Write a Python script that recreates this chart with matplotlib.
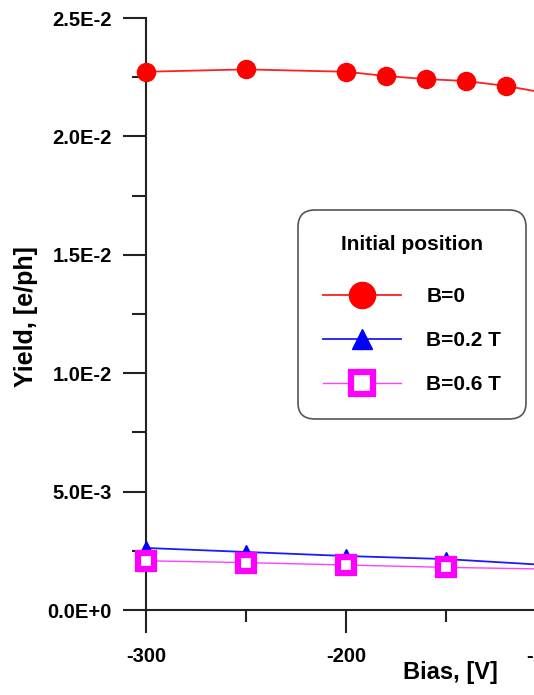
import matplotlib
matplotlib.use("Agg")
import matplotlib.pyplot as plt
from matplotlib.ticker import FixedLocator, MultipleLocator

# Yield vs bias, initial position, three field values.
bias_b0 = [-300, -250, -200, -180, -160, -140, -120, -100]
yield_b0 = [0.02273, 0.02283, 0.02273, 0.02255, 0.02242, 0.02234, 0.02213, 0.02183]

bias_b02 = [-300, -250, -200, -150, -100]
yield_b02 = [0.00262, 0.00245, 0.00228, 0.00215, 0.00190]

bias_b06 = [-300, -250, -200, -150, -100]
yield_b06 = [0.00208, 0.00200, 0.00190, 0.00180, 0.00173]

labels = ["B=0", "B=0.2 T", "B=0.6 T"]
ytick_vals = [0.0, 0.005, 0.010, 0.015, 0.020, 0.025]
ytick_labels = ["0.0E+0", "5.0E-3", "1.0E-2", "1.5E-2", "2.0E-2", "2.5E-2"]
xtick_vals = [-300, -200, -100]
xtick_labels = ["-300", "-200", "-100"]

plt.rcParams["font.family"] = ["Liberation Sans", "DejaVu Sans"]
plt.rcParams["font.weight"] = "bold"

W, H = 534, 695
fig = plt.figure(figsize=(W / 100, H / 100), dpi=100)

# axes run past the right edge of the figure (reference is cropped)
x0, x1 = -300, -100
left_px, right_px = 146, 546
top_px, bot_px = 18, 610
ax = fig.add_axes([left_px / W, (H - bot_px) / H,
                   (right_px - left_px) / W, (bot_px - top_px) / H])

ax.plot(bias_b0, yield_b0, color="#ff2020", lw=1.3, marker="o", ms=13,
        mfc="red", mec="red", label=labels[0], clip_on=False, zorder=3)
ax.plot(bias_b02, yield_b02, color="#1a1aff", lw=1.3, marker="^", ms=10,
        mfc="blue", mec="blue", label=labels[1], clip_on=False, zorder=3)
ax.plot(bias_b06, yield_b06, color="#ff40ff", lw=1.0, marker="s", ms=11,
        mfc="white", mec="magenta", mew=4.5, label=labels[2], clip_on=False, zorder=4)

ax.set_xlim(x0, x1)
ax.set_ylim(0, 0.025)

ax.spines["top"].set_visible(False)
ax.spines["right"].set_visible(False)
for s in ("left", "bottom"):
    ax.spines[s].set_linewidth(1.5)
    ax.spines[s].set_color("#222222")

ax.yaxis.set_major_locator(FixedLocator(ytick_vals))
ax.set_yticklabels(ytick_labels)
ax.yaxis.set_minor_locator(MultipleLocator(0.0025))
ax.xaxis.set_major_locator(FixedLocator(xtick_vals))
ax.set_xticklabels(xtick_labels)
ax.xaxis.set_minor_locator(MultipleLocator(50))

ax.tick_params(axis="both", which="major", length=16.5, width=1.5,
               color="#222222", labelsize=14.5)
ax.tick_params(axis="both", which="minor", length=10, width=1.5, color="#222222")
ax.tick_params(axis="y", which="major", pad=8)
ax.tick_params(axis="x", which="major", pad=10)
ax.tick_params(axis="x", which="minor", length=8.5)

fig.text(26 / W, 1 - 317 / H, "Yield, [e/ph]", rotation=90, ha="center",
         va="center", fontsize=18, fontweight="bold")
fig.text(450 / W, 1 - 672 / H, "Bias, [V]", ha="center", va="center",
         fontsize=17, fontweight="bold")

leg = ax.legend(loc="upper left", bbox_to_anchor=(298 / W, 1 - 210 / H),
                bbox_transform=fig.transFigure, title="Initial position",
                fontsize=15, title_fontproperties={"weight": "bold", "size": 15},
                handlelength=3.75, handletextpad=1.2, labelspacing=1.2,
                borderpad=1.2, borderaxespad=0, fancybox=True, framealpha=1,
                edgecolor="#555555", markerscale=1.45)
leg.get_frame().set_linewidth(1.2)
leg.get_frame().set_boxstyle("round", pad=0, rounding_size=0.8)
leg._legend_box.sep = 24

fig.savefig("out.png", dpi=100)
